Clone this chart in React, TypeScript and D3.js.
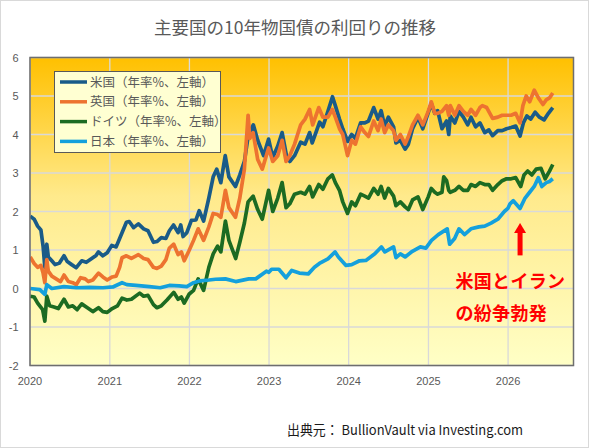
import * as d3 from "d3";

const WIDTH = 589;
const HEIGHT = 448;
const MARGIN = { left: 30, right: 15.5, top: 57.5, bottom: 82.5 };

const TITLE = "主要国の10年物国債の利回りの推移";
const SOURCE = "出典元： BullionVault via Investing.com";
const NOTE_LINES = ["米国とイラン", "の紛争勃発"];
const NOTE_DATE = "2026-02-25";

const yTicks = [-2, -1, 0, 1, 2, 3, 4, 5, 6];
const yearTicks = [2020, 2021, 2022, 2023, 2024, 2025, 2026];

type Point = [string, number];

const usYield: Point[] = [
  ["2020-01-02", 1.88], ["2020-01-20", 1.8], ["2020-02-05", 1.62], ["2020-02-20", 1.52],
  ["2020-03-01", 1.1], ["2020-03-09", 0.55], ["2020-03-18", 1.15], ["2020-03-25", 0.82],
  ["2020-04-10", 0.72], ["2020-04-25", 0.62], ["2020-05-15", 0.66], ["2020-06-05", 0.85],
  ["2020-06-20", 0.7], ["2020-07-10", 0.62], ["2020-07-31", 0.54], ["2020-08-25", 0.72],
  ["2020-09-15", 0.68], ["2020-10-10", 0.78], ["2020-10-30", 0.86], ["2020-11-10", 0.95],
  ["2020-11-30", 0.85], ["2020-12-20", 0.93], ["2021-01-10", 1.12], ["2021-01-30", 1.08],
  ["2021-02-15", 1.3], ["2021-02-26", 1.45], ["2021-03-18", 1.72], ["2021-03-31", 1.74],
  ["2021-04-20", 1.58], ["2021-05-12", 1.68], ["2021-06-05", 1.55], ["2021-06-25", 1.5],
  ["2021-07-20", 1.2], ["2021-08-05", 1.22], ["2021-08-25", 1.32], ["2021-09-15", 1.3],
  ["2021-10-01", 1.5], ["2021-10-20", 1.65], ["2021-11-10", 1.45], ["2021-11-22", 1.65],
  ["2021-12-03", 1.35], ["2021-12-20", 1.45], ["2022-01-10", 1.77], ["2022-01-31", 1.78],
  ["2022-02-15", 2.02], ["2022-03-07", 1.75], ["2022-03-31", 2.35], ["2022-04-20", 2.9],
  ["2022-05-06", 3.1], ["2022-05-25", 2.75], ["2022-06-14", 3.45], ["2022-07-01", 2.9],
  ["2022-07-31", 2.65], ["2022-08-20", 2.95], ["2022-09-10", 3.3], ["2022-09-27", 3.95],
  ["2022-10-21", 4.25], ["2022-11-10", 3.85], ["2022-12-07", 3.45], ["2022-12-30", 3.88],
  ["2023-01-18", 3.4], ["2023-02-10", 3.7], ["2023-03-02", 4.05], ["2023-03-22", 3.45],
  ["2023-04-06", 3.3], ["2023-04-28", 3.45], ["2023-05-26", 3.8], ["2023-06-15", 3.75],
  ["2023-07-06", 4.05], ["2023-07-18", 3.78], ["2023-08-21", 4.32], ["2023-09-05", 4.2],
  ["2023-09-28", 4.6], ["2023-10-19", 4.98], ["2023-11-01", 4.75], ["2023-11-20", 4.4],
  ["2023-12-05", 4.15], ["2023-12-27", 3.82], ["2024-01-15", 4.0], ["2024-02-01", 3.9],
  ["2024-02-25", 4.3], ["2024-03-15", 4.3], ["2024-04-01", 4.35], ["2024-04-25", 4.7],
  ["2024-05-15", 4.4], ["2024-05-29", 4.62], ["2024-06-14", 4.22], ["2024-07-01", 4.45],
  ["2024-07-25", 4.2], ["2024-08-05", 3.78], ["2024-08-25", 3.85], ["2024-09-16", 3.62],
  ["2024-10-01", 3.75], ["2024-10-20", 4.15], ["2024-11-14", 4.45], ["2024-12-06", 4.15],
  ["2024-12-31", 4.57], ["2025-01-14", 4.8], ["2025-01-30", 4.55], ["2025-02-12", 4.62],
  ["2025-03-04", 4.15], ["2025-03-25", 4.35], ["2025-04-04", 4.0], ["2025-04-11", 4.48],
  ["2025-05-02", 4.3], ["2025-05-21", 4.6], ["2025-06-10", 4.45], ["2025-06-30", 4.25],
  ["2025-07-15", 4.45], ["2025-08-05", 4.2], ["2025-08-25", 4.3], ["2025-09-16", 4.05],
  ["2025-10-05", 4.12], ["2025-10-22", 3.97], ["2025-11-15", 4.1], ["2025-12-05", 4.1],
  ["2025-12-25", 4.15], ["2026-01-15", 4.18], ["2026-02-05", 4.22], ["2026-02-25", 3.96],
  ["2026-03-12", 4.3], ["2026-03-28", 4.48], ["2026-04-15", 4.4], ["2026-05-05", 4.58],
  ["2026-05-25", 4.45], ["2026-06-15", 4.38], ["2026-07-05", 4.55], ["2026-07-25", 4.7],
];

const ukYield: Point[] = [
  ["2020-01-02", 0.82], ["2020-01-20", 0.65], ["2020-02-05", 0.55], ["2020-02-20", 0.6],
  ["2020-03-01", 0.4], ["2020-03-09", 0.15], ["2020-03-18", 0.75], ["2020-03-25", 0.45],
  ["2020-04-10", 0.32], ["2020-04-30", 0.25], ["2020-05-20", 0.18], ["2020-06-05", 0.35],
  ["2020-06-25", 0.18], ["2020-07-15", 0.15], ["2020-07-31", 0.1], ["2020-08-20", 0.28],
  ["2020-09-10", 0.25], ["2020-09-25", 0.18], ["2020-10-15", 0.22], ["2020-11-10", 0.4],
  ["2020-11-30", 0.3], ["2020-12-20", 0.22], ["2021-01-12", 0.3], ["2021-01-30", 0.32],
  ["2021-02-15", 0.55], ["2021-02-26", 0.8], ["2021-03-18", 0.85], ["2021-04-10", 0.78],
  ["2021-05-12", 0.88], ["2021-06-05", 0.78], ["2021-06-25", 0.75], ["2021-07-20", 0.55],
  ["2021-08-05", 0.52], ["2021-08-25", 0.58], ["2021-09-15", 0.75], ["2021-10-01", 1.05],
  ["2021-10-21", 1.15], ["2021-11-10", 0.88], ["2021-11-25", 0.95], ["2021-12-08", 0.72],
  ["2021-12-30", 0.98], ["2022-01-20", 1.25], ["2022-02-10", 1.55], ["2022-03-07", 1.25],
  ["2022-03-31", 1.6], ["2022-04-20", 1.95], ["2022-05-10", 1.92], ["2022-05-25", 1.85],
  ["2022-06-15", 2.55], ["2022-07-01", 2.1], ["2022-07-31", 1.85], ["2022-08-20", 2.35],
  ["2022-09-10", 3.1], ["2022-09-27", 4.5], ["2022-10-05", 3.9], ["2022-10-20", 4.05],
  ["2022-11-10", 3.35], ["2022-12-01", 3.1], ["2022-12-30", 3.65], ["2023-01-18", 3.3],
  ["2023-02-10", 3.45], ["2023-03-02", 3.85], ["2023-03-20", 3.3], ["2023-04-06", 3.45],
  ["2023-04-28", 3.75], ["2023-05-26", 4.25], ["2023-06-15", 4.4], ["2023-07-06", 4.65],
  ["2023-07-20", 4.25], ["2023-08-17", 4.7], ["2023-09-05", 4.45], ["2023-09-28", 4.45],
  ["2023-10-18", 4.65], ["2023-11-01", 4.45], ["2023-11-20", 4.15], ["2023-12-05", 4.0],
  ["2023-12-27", 3.45], ["2024-01-15", 3.85], ["2024-02-01", 3.75], ["2024-02-25", 4.2],
  ["2024-03-15", 4.05], ["2024-04-01", 3.95], ["2024-04-25", 4.35], ["2024-05-15", 4.1],
  ["2024-05-29", 4.4], ["2024-06-14", 4.05], ["2024-07-01", 4.25], ["2024-07-25", 4.1],
  ["2024-08-05", 3.85], ["2024-08-25", 4.0], ["2024-09-16", 3.75], ["2024-10-01", 3.95],
  ["2024-10-20", 4.25], ["2024-11-14", 4.5], ["2024-12-06", 4.25], ["2024-12-31", 4.6],
  ["2025-01-14", 4.85], ["2025-01-30", 4.55], ["2025-02-12", 4.55], ["2025-03-04", 4.6],
  ["2025-03-25", 4.75], ["2025-04-04", 4.5], ["2025-04-11", 4.75], ["2025-05-02", 4.5],
  ["2025-05-21", 4.75], ["2025-06-10", 4.6], ["2025-06-30", 4.5], ["2025-07-15", 4.65],
  ["2025-08-05", 4.5], ["2025-08-25", 4.7], ["2025-09-05", 4.75], ["2025-09-25", 4.7],
  ["2025-10-22", 4.42], ["2025-11-15", 4.45], ["2025-12-05", 4.5], ["2025-12-25", 4.5],
  ["2026-01-15", 4.5], ["2026-02-05", 4.55], ["2026-02-25", 4.3], ["2026-03-10", 4.75],
  ["2026-03-25", 5.0], ["2026-04-10", 4.85], ["2026-05-01", 5.15], ["2026-05-20", 4.95],
  ["2026-06-10", 4.78], ["2026-06-25", 4.9], ["2026-07-10", 4.95], ["2026-07-25", 5.08],
];

const deYield: Point[] = [
  ["2020-01-02", -0.2], ["2020-01-20", -0.22], ["2020-02-05", -0.38], ["2020-02-28", -0.55],
  ["2020-03-09", -0.85], ["2020-03-18", -0.2], ["2020-03-31", -0.45], ["2020-04-20", -0.48],
  ["2020-05-10", -0.52], ["2020-06-05", -0.28], ["2020-06-25", -0.48], ["2020-07-15", -0.45],
  ["2020-08-04", -0.55], ["2020-08-25", -0.4], ["2020-09-20", -0.5], ["2020-10-15", -0.6],
  ["2020-11-10", -0.5], ["2020-11-30", -0.6], ["2020-12-20", -0.62], ["2021-01-12", -0.52],
  ["2021-02-05", -0.45], ["2021-02-26", -0.25], ["2021-03-20", -0.3], ["2021-04-10", -0.28],
  ["2021-05-18", -0.12], ["2021-06-05", -0.2], ["2021-06-25", -0.18], ["2021-07-20", -0.42],
  ["2021-08-05", -0.5], ["2021-08-25", -0.45], ["2021-09-20", -0.3], ["2021-10-21", -0.1],
  ["2021-11-10", -0.28], ["2021-11-25", -0.22], ["2021-12-08", -0.38], ["2021-12-30", -0.15],
  ["2022-01-20", -0.05], ["2022-02-10", 0.25], ["2022-03-07", -0.05], ["2022-03-31", 0.55],
  ["2022-04-20", 0.9], ["2022-05-10", 1.1], ["2022-05-25", 0.95], ["2022-06-15", 1.75],
  ["2022-07-01", 1.25], ["2022-08-01", 0.78], ["2022-08-20", 1.2], ["2022-09-10", 1.7],
  ["2022-09-27", 2.25], ["2022-10-20", 2.4], ["2022-11-10", 2.05], ["2022-12-01", 1.8],
  ["2022-12-30", 2.55], ["2023-01-18", 2.0], ["2023-02-10", 2.35], ["2023-03-02", 2.75],
  ["2023-03-20", 2.1], ["2023-04-06", 2.2], ["2023-04-28", 2.45], ["2023-05-26", 2.5],
  ["2023-06-15", 2.45], ["2023-07-06", 2.65], ["2023-07-20", 2.38], ["2023-08-17", 2.7],
  ["2023-09-05", 2.58], ["2023-09-28", 2.85], ["2023-10-18", 2.95], ["2023-11-01", 2.75],
  ["2023-11-20", 2.55], ["2023-12-05", 2.25], ["2023-12-27", 1.95], ["2024-01-15", 2.25],
  ["2024-02-01", 2.15], ["2024-02-25", 2.45], ["2024-03-15", 2.4], ["2024-04-01", 2.35],
  ["2024-04-25", 2.6], ["2024-05-15", 2.45], ["2024-05-29", 2.65], ["2024-06-14", 2.35],
  ["2024-07-01", 2.6], ["2024-07-25", 2.4], ["2024-08-05", 2.15], ["2024-08-25", 2.25],
  ["2024-09-16", 2.12], ["2024-10-01", 2.05], ["2024-10-20", 2.3], ["2024-11-14", 2.38],
  ["2024-12-06", 2.05], ["2024-12-31", 2.38], ["2025-01-14", 2.6], ["2025-01-30", 2.5],
  ["2025-02-12", 2.45], ["2025-03-04", 2.5], ["2025-03-12", 2.9], ["2025-03-25", 2.8],
  ["2025-04-04", 2.55], ["2025-04-11", 2.5], ["2025-05-02", 2.55], ["2025-05-21", 2.65],
  ["2025-06-10", 2.55], ["2025-06-30", 2.55], ["2025-07-15", 2.7], ["2025-08-05", 2.65],
  ["2025-08-25", 2.75], ["2025-09-16", 2.7], ["2025-10-05", 2.7], ["2025-10-22", 2.55],
  ["2025-11-15", 2.7], ["2025-12-05", 2.8], ["2025-12-25", 2.85], ["2026-01-15", 2.85],
  ["2026-02-05", 2.88], ["2026-02-28", 2.65], ["2026-03-15", 2.95], ["2026-04-01", 3.05],
  ["2026-04-20", 2.95], ["2026-05-10", 3.1], ["2026-06-01", 3.12], ["2026-06-20", 2.85],
  ["2026-07-10", 3.05], ["2026-07-25", 3.22],
];

const jpYield: Point[] = [
  ["2020-01-02", 0.0], ["2020-02-15", -0.03], ["2020-03-09", -0.15], ["2020-03-18", 0.1],
  ["2020-04-10", 0.0], ["2020-06-05", 0.05], ["2020-08-01", 0.02], ["2020-10-01", 0.03],
  ["2020-12-01", 0.02], ["2021-01-15", 0.04], ["2021-02-26", 0.15], ["2021-03-20", 0.1],
  ["2021-05-01", 0.08], ["2021-07-01", 0.05], ["2021-08-20", 0.02], ["2021-10-01", 0.08],
  ["2021-11-15", 0.07], ["2021-12-20", 0.05], ["2022-01-20", 0.15], ["2022-02-20", 0.2],
  ["2022-03-31", 0.22], ["2022-05-01", 0.24], ["2022-06-15", 0.25], ["2022-08-01", 0.18],
  ["2022-09-30", 0.25], ["2022-11-01", 0.25], ["2022-12-20", 0.45], ["2022-12-31", 0.42],
  ["2023-01-13", 0.5], ["2023-02-15", 0.5], ["2023-03-20", 0.28], ["2023-04-15", 0.47],
  ["2023-05-20", 0.4], ["2023-06-30", 0.38], ["2023-07-28", 0.55], ["2023-08-20", 0.65],
  ["2023-09-28", 0.77], ["2023-10-31", 0.95], ["2023-11-15", 0.82], ["2023-12-20", 0.6],
  ["2024-01-15", 0.62], ["2024-02-20", 0.72], ["2024-03-20", 0.73], ["2024-04-30", 0.9],
  ["2024-05-30", 1.08], ["2024-06-15", 0.95], ["2024-07-25", 1.08], ["2024-08-05", 0.8],
  ["2024-08-25", 0.9], ["2024-09-16", 0.82], ["2024-10-15", 0.95], ["2024-11-25", 1.08],
  ["2024-12-20", 1.05], ["2025-01-15", 1.25], ["2025-02-15", 1.4], ["2025-03-28", 1.55],
  ["2025-04-08", 1.15], ["2025-05-01", 1.3], ["2025-05-21", 1.55], ["2025-06-15", 1.4],
  ["2025-07-15", 1.55], ["2025-08-20", 1.6], ["2025-09-16", 1.62], ["2025-10-15", 1.7],
  ["2025-11-15", 1.8], ["2025-12-15", 2.0], ["2025-12-31", 2.08], ["2026-01-10", 2.2],
  ["2026-01-25", 2.28], ["2026-02-25", 2.08], ["2026-03-20", 2.35], ["2026-04-10", 2.5],
  ["2026-05-01", 2.65], ["2026-05-20", 2.88], ["2026-06-05", 2.65], ["2026-06-25", 2.75],
  ["2026-07-10", 2.78], ["2026-07-25", 2.85],
];

const seriesList = [
  { label: "米国（年率%、左軸）", color: "#195B88", data: usYield },
  { label: "英国（年率%、左軸）", color: "#ED7330", data: ukYield },
  { label: "ドイツ（年率%、左軸）", color: "#1C6B22", data: deYield },
  { label: "日本（年率%、左軸）", color: "#14A0DC", data: jpYield },
];

const parseDate = d3.timeParse("%Y-%m-%d");
const JP_FONT = "'Noto Sans CJK JP', 'Noto Sans', sans-serif";
const AXIS_COLOR = "#595959";

export default function App() {
  const x = d3
    .scaleTime()
    .domain([new Date(2020, 0, 1), new Date(2026, 9, 28)])
    .range([MARGIN.left, WIDTH - MARGIN.right]);
  const y = d3
    .scaleLinear()
    .domain([-2, 6])
    .range([HEIGHT - MARGIN.bottom, MARGIN.top]);

  const line = d3
    .line<Point>()
    .x((d) => x(parseDate(d[0]) as Date))
    .y((d) => y(d[1]));

  const plotW = WIDTH - MARGIN.left - MARGIN.right;
  const plotH = HEIGHT - MARGIN.top - MARGIN.bottom;

  const noteX = x(parseDate(NOTE_DATE) as Date);
  const arrowTop = y(1.7);
  const arrowBottom = y(0.86);

  return (
    <svg
      width={WIDTH}
      height={HEIGHT}
      style={{ position: "absolute", left: 0, top: 0, background: "#fff" }}
    >
      <defs>
        <linearGradient id="plotBg" x1="0" y1="0" x2="0" y2="1">
          <stop offset="0%" stopColor="#FFC000" />
          <stop offset="45%" stopColor="#FFEA8C" />
          <stop offset="100%" stopColor="#FFFFC6" />
        </linearGradient>
        <clipPath id="plotClip">
          <rect x={MARGIN.left} y={MARGIN.top} width={plotW} height={plotH} />
        </clipPath>
      </defs>

      <rect x={0.5} y={0.5} width={WIDTH - 1} height={HEIGHT - 1} fill="#fff" stroke="#D9D9D9" />

      <text
        x={295}
        y={34}
        textAnchor="middle"
        fontFamily={JP_FONT}
        fontSize={17.5}
        fill={AXIS_COLOR}
      >
        {TITLE}
      </text>

      <rect x={MARGIN.left} y={MARGIN.top} width={plotW} height={plotH} fill="url(#plotBg)" />

      {yTicks.map((t) => (
        <line
          key={"gy" + t}
          x1={MARGIN.left}
          x2={WIDTH - MARGIN.right}
          y1={y(t)}
          y2={y(t)}
          stroke="#D9D9D9"
          strokeWidth={1.3}
        />
      ))}
      {yearTicks.map((yr) => (
        <line
          key={"gx" + yr}
          x1={x(new Date(yr, 0, 1))}
          x2={x(new Date(yr, 0, 1))}
          y1={MARGIN.top}
          y2={HEIGHT - MARGIN.bottom}
          stroke="#D9D9D9"
          strokeWidth={1.3}
        />
      ))}

      <g clipPath="url(#plotClip)">
        {seriesList.map((s) => (
          <path
            key={s.label}
            d={line(s.data) || undefined}
            fill="none"
            stroke={s.color}
            strokeWidth={3.7}
            strokeLinejoin="round"
          />
        ))}
      </g>

      <rect
        x={MARGIN.left}
        y={MARGIN.top}
        width={plotW}
        height={plotH}
        fill="none"
        stroke="#6E6E6E"
        strokeWidth={1.5}
      />

      {yTicks.map((t) => (
        <text
          key={"ty" + t}
          x={18.5}
          y={y(t) + 4}
          textAnchor="end"
          fontFamily="'Liberation Sans', Arial, sans-serif"
          fontSize={11}
          fill={AXIS_COLOR}
        >
          {t}
        </text>
      ))}
      {yearTicks.map((yr) => (
        <text
          key={"tx" + yr}
          x={x(new Date(yr, 0, 1))}
          y={385}
          textAnchor="middle"
          fontFamily="'Liberation Sans', Arial, sans-serif"
          fontSize={11}
          fill={AXIS_COLOR}
        >
          {yr}
        </text>
      ))}

      {/* legend */}
      <g>
        <rect x={54.5} y={71.5} width={166} height={81} fill="#FFFFD2" stroke="#595959" strokeWidth={1} />
        {seriesList.map((s, i) => (
          <g key={"lg" + s.label} transform={`translate(60, ${82 + i * 19.8})`}>
            <line x1={0} x2={27} y1={0} y2={0} stroke={s.color} strokeWidth={3.5} />
            <text x={30} y={4.5} fontFamily={JP_FONT} fontSize={12.5} fill={AXIS_COLOR}>
              {s.label}
            </text>
          </g>
        ))}
      </g>

      {/* annotation */}
      <rect x={noteX - 2.5} y={arrowTop + 9} width={5} height={arrowBottom - arrowTop - 9} fill="#FF0000" />
      <path
        d={`M${noteX - 6},${arrowTop + 10} L${noteX},${arrowTop} L${noteX + 6},${arrowTop + 10} Z`}
        fill="#FF0000"
      />
      {NOTE_LINES.map((t, i) => (
        <text
          key={t}
          x={455.5}
          y={288 + i * 32}
          fontFamily={JP_FONT}
          fontSize={18}
          fontWeight="bold"
          fill="#FF0000"
          letterSpacing={0.3}
        >
          {t}
        </text>
      ))}

      <text
        x={287}
        y={435}
        fontFamily={JP_FONT}
        fontSize={13.5}
        fill="#1a1a1a"
        textLength={236}
        lengthAdjust="spacingAndGlyphs"
      >
        {SOURCE}
      </text>
    </svg>
  );
}
